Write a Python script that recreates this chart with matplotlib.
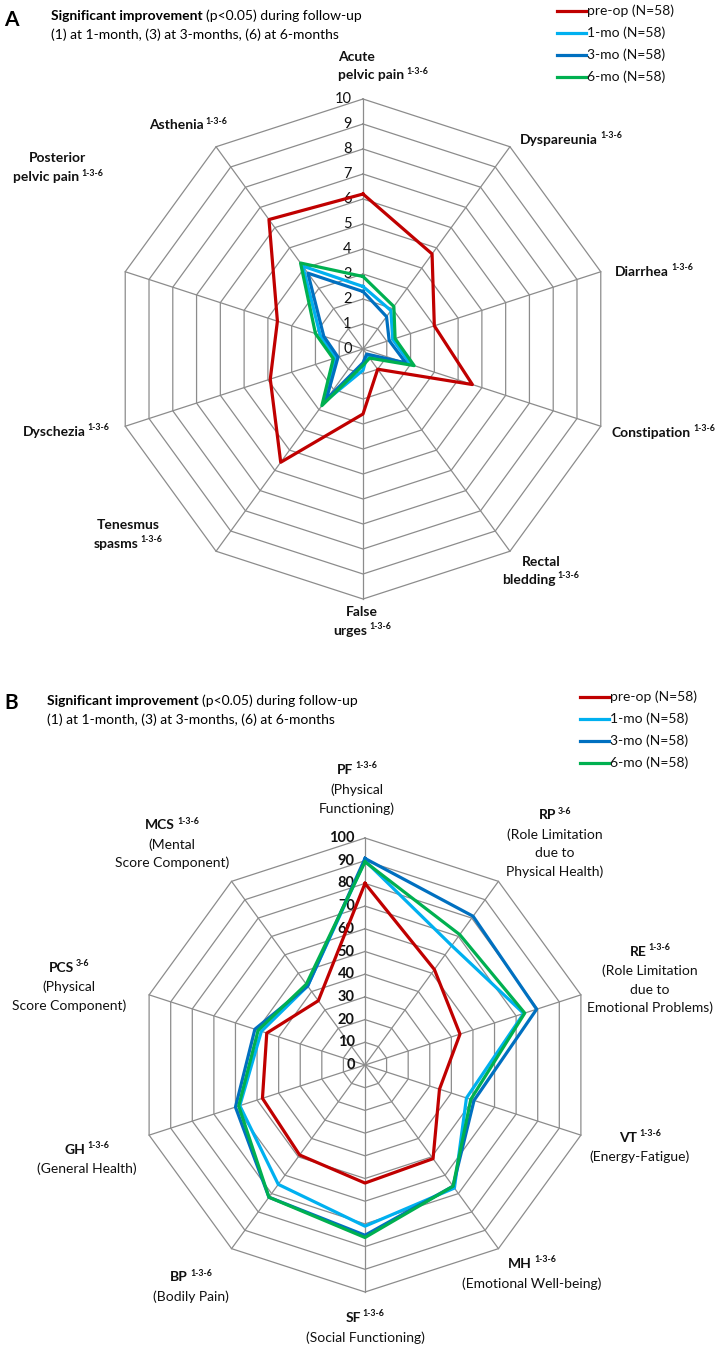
import numpy as np
import matplotlib
matplotlib.use("Agg")
import matplotlib.pyplot as plt
from matplotlib.lines import Line2D

plt.rcParams["font.family"] = ["Lato", "DejaVu Sans"]

W, H = 722, 1355

# ---- panel A data (0-10 symptom scores) ----
a_labels = ["Acute pelvic pain", "Dyspareunia", "Diarrhea", "Constipation", "Rectal bledding",
            "False urges", "Tenesmus spasms", "Dyschezia", "Posterior pelvic pain", "Asthenia"]
a_preop = [6.2, 4.7, 3.0, 4.6, 1.0, 2.6, 5.6, 3.9, 3.6, 6.4]
a_mo1 = [2.5, 1.9, 1.25, 2.0, 0.3, 0.85, 2.6, 1.15, 1.8, 4.1]
a_mo3 = [2.3, 1.6, 1.1, 1.8, 0.25, 0.55, 2.5, 1.05, 1.65, 3.75]
a_mo6 = [2.9, 2.1, 1.35, 2.15, 0.45, 0.65, 2.8, 1.25, 2.0, 4.25]
a_ticks = list(range(0, 11))

# ---- panel B data (SF-36 scores, 0-100) ----
b_labels = ["PF", "RP", "RE", "VT", "MH", "SF", "BP", "GH", "PCS", "MCS"]
b_preop = [80, 52, 44, 34.5, 51, 52, 49, 47.5, 45.5, 35]
b_mo1 = [90, 65, 73.5, 47, 67, 71, 65, 58, 48, 43]
b_mo3 = [91, 81, 79.5, 50.5, 66, 75, 72, 60, 51, 43]
b_mo6 = [89.5, 71, 74, 49, 66, 76, 72, 58.5, 49.5, 44]
b_ticks = list(range(0, 101, 10))

series_names = ["pre-op (N=58)", "1-mo (N=58)", "3-mo (N=58)", "6-mo (N=58)"]
series_colors = ["#C00000", "#00B0F0", "#0070C0", "#00B050"]
GRID = "#8c8c8c"

fig = plt.figure(figsize=(W / 100, H / 100), dpi=100, facecolor="white")


def fx(x):
    return x / W


def fy(y):
    return 1 - y / H


def radar(cx, cy, half, px_per_unit, ticks, series, tick_weight):
    ax = fig.add_axes([fx(cx - half), fy(cy + half), 2 * half / W, 2 * half / H])
    lim = half / px_per_unit
    ax.set_xlim(-lim, lim)
    ax.set_ylim(-lim, lim)
    ax.axis("off")
    n = len(series[0])
    theta = np.arange(n) * 2 * np.pi / n
    th_c = np.append(theta, theta[0])
    rmax = ticks[-1]
    # decagon rings and spokes
    for r in ticks[1:]:
        ax.plot(r * np.sin(th_c), r * np.cos(th_c), color=GRID, lw=0.9, zorder=1)
    for t in theta:
        ax.plot([0, rmax * np.sin(t)], [0, rmax * np.cos(t)], color=GRID, lw=0.9, zorder=1)
    for r in ticks:
        ax.text(-0.045 * rmax, r, str(r), ha="right", va="center", fontsize=10.5,
                fontweight=tick_weight, color="#111111", zorder=2)
    for vals, col in zip(series, series_colors):
        v = np.append(vals, vals[0])
        ax.plot(v * np.sin(th_c), v * np.cos(th_c), color=col, lw=2.3,
                solid_joinstyle="round", zorder=3)
    return ax


radar(363, 349, 300, 25.0, a_ticks, [a_preop, a_mo1, a_mo3, a_mo6], "normal")
radar(365, 1065, 290, 2.27, b_ticks, [b_preop, b_mo1, b_mo3, b_mo6], "bold")

fig.canvas.draw()
renderer = fig.canvas.get_renderer()


def line(x, y, main, sup=None, ha="center", weight="bold", size=10):
    # one label line, optional small superscript right after it
    t = fig.text(0, 0, main, fontsize=size, fontweight=weight, va="center", ha="left", color="#111111")
    w1 = t.get_window_extent(renderer).width
    w2 = 0
    gap = 2
    s = None
    if sup:
        s = fig.text(0, 0, sup, fontsize=6.3, fontweight="bold", va="center", ha="left", color="#111111")
        w2 = s.get_window_extent(renderer).width + gap
    x0 = x - (w1 + w2) / 2 if ha == "center" else x
    t.set_position((fx(x0), fy(y)))
    if s is not None:
        s.set_position((fx(x0 + w1 + gap), fy(y - 4)))


SUP = "1-3-6"


def heading(letter, y_letter, x, y1, y2):
    fig.text(fx(4), fy(y_letter), letter, fontsize=15, fontweight="bold", va="center", ha="left")
    tb = fig.text(fx(x), fy(y1), "Significant improvement", fontsize=10, fontweight="bold", va="center")
    wb = tb.get_window_extent(renderer).width
    fig.text(fx(x + wb + 3), fy(y1), "(p<0.05) during follow-up", fontsize=10, va="center")
    fig.text(fx(x), fy(y2), "(1) at 1-month, (3) at 3-months, (6) at 6-months", fontsize=10, va="center")


heading("A", 20, 51, 16, 35)
heading("B", 703, 47, 701, 720)

# ---- panel A axis labels ----
line(338, 57, "Acute", ha="left")
line(338, 75, "pelvic pain", SUP, ha="left")
line(520, 140, "Dyspareunia", SUP, ha="left")
line(615, 272, "Diarrhea", SUP, ha="left")
line(612, 433, "Constipation", SUP, ha="left")
line(541, 562, "Rectal")
line(541, 580, "bledding", SUP)
line(362, 612, "False")
line(362, 631, "urges", SUP)
line(128, 525, "Tenesmus")
line(128, 544, "spasms", SUP)
line(66, 432, "Dyschezia", SUP)
line(58, 158, "Posterior")
line(58, 177, "pelvic pain", SUP)
line(188, 125, "Asthenia", SUP)

# ---- panel B axis labels ----
line(357, 770, "PF", SUP)
line(357, 790, "(Physical", weight="normal")
line(357, 809, "Functioning)", weight="normal")
line(555, 815, "RP", "3-6")
line(555, 835, "(Role Limitation", weight="normal")
line(555, 853, "due to", weight="normal")
line(555, 872, "Physical Health)", weight="normal")
line(650, 952, "RE", SUP)
line(650, 971, "(Role Limitation", weight="normal")
line(650, 990, "due to", weight="normal")
line(650, 1008, "Emotional Problems)", weight="normal")
line(640, 1138, "VT", SUP)
line(640, 1157, "(Energy-Fatigue)", weight="normal")
line(532, 1264, "MH", SUP)
line(532, 1284, "(Emotional Well-being)", weight="normal")
line(365, 1318, "SF", SUP)
line(365, 1338, "(Social Functioning)", weight="normal")
line(191, 1277, "BP", SUP)
line(191, 1297, "(Bodily Pain)", weight="normal")
line(87, 1150, "GH", SUP)
line(87, 1169, "(General Health)", weight="normal")
line(69, 968, "PCS", "3-6")
line(69, 987, "(Physical", weight="normal")
line(69, 1006, "Score Component)", weight="normal")
line(172, 825, "MCS", SUP)
line(172, 845, "(Mental", weight="normal")
line(172, 863, "Score Component)", weight="normal")

# ---- legends ----
for x_line, ys in [(557, [11, 33, 55, 77]), (580, [697, 719, 741, 763])]:
    for name, col, y in zip(series_names, series_colors, ys):
        fig.add_artist(Line2D([fx(x_line), fx(x_line + 29)], [fy(y), fy(y)], color=col, lw=2.3,
                              transform=fig.transFigure))
        fig.text(fx(x_line + 30), fy(y), name, fontsize=10, va="center", ha="left", color="#111111")

fig.savefig("out.png", dpi=100, facecolor="white")
